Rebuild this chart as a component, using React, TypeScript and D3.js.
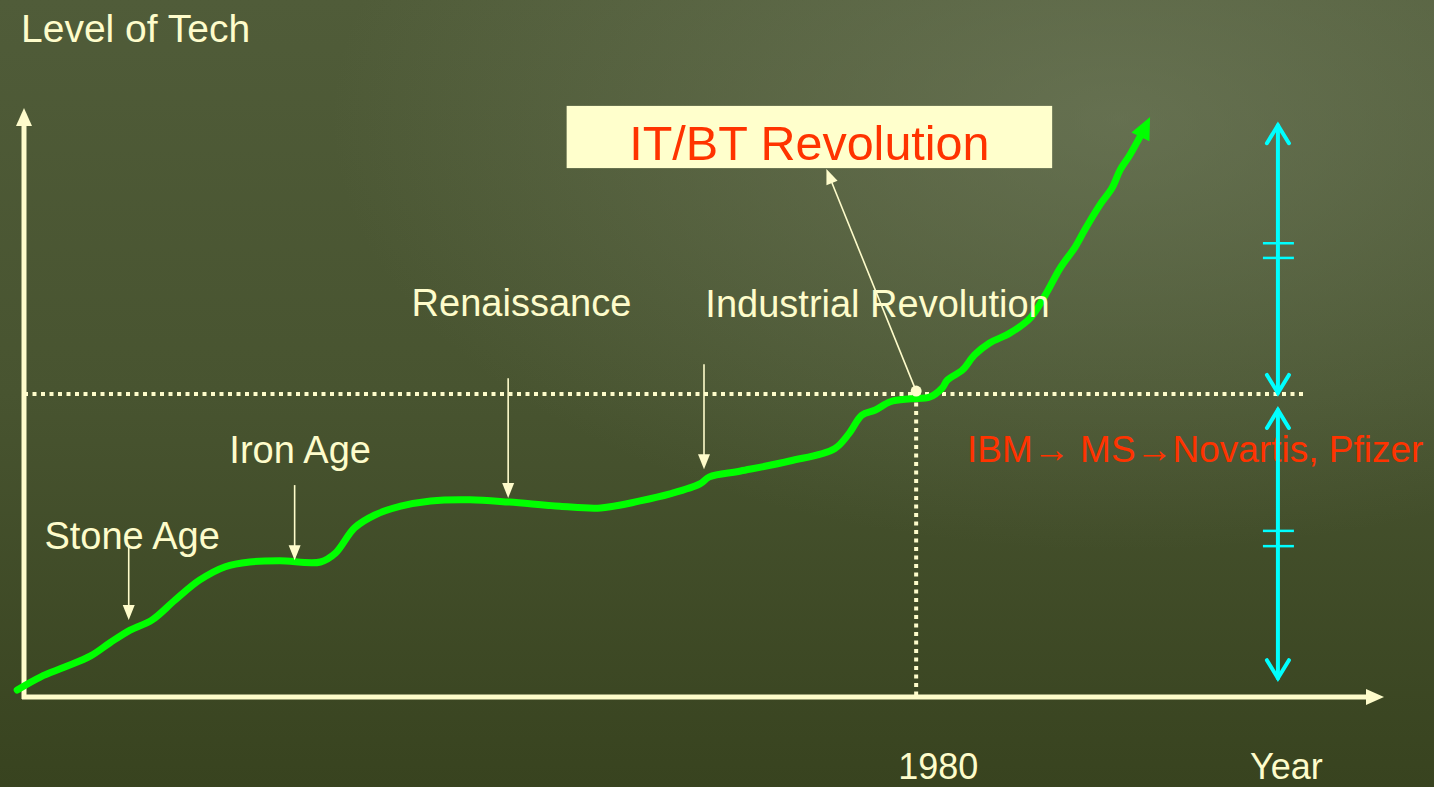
import * as d3 from "d3";
import { useEffect } from "react";

// level-of-tech curve, x = time progress (0..100), y = level (0..100)
const curveX = [-0.5, 1.2, 3.0, 4.9, 6.3, 7.8, 9.4, 11.1, 12.9, 14.8, 16.6, 18.8, 21.8, 22.9, 24.3, 25.8, 27.7, 29.9, 32.8, 35.7, 39.4, 42.4, 45.3, 47.5, 49.7, 50.4, 52.7, 56.3, 59.6, 60.7, 61.6, 62.6, 63.7, 65.2, 66.6, 67.5, 67.9, 69.0, 69.9, 71.0, 72.5, 74.0, 75.1, 76.2, 77.3, 78.0, 79.1, 80.0, 80.6, 81.3, 82.4];
const curveY = [1.2, 3.4, 5.1, 7.0, 9.2, 11.4, 13.1, 16.5, 19.9, 22.2, 23.0, 23.2, 23.0, 24.5, 28.8, 31.0, 32.5, 33.4, 33.6, 33.2, 32.5, 32.2, 33.4, 34.6, 36.3, 37.5, 38.5, 40.2, 42.3, 45.0, 48.0, 48.9, 50.3, 50.8, 51.1, 52.6, 54.0, 55.7, 58.3, 60.3, 62.0, 64.6, 68.5, 73.1, 76.7, 79.6, 83.8, 86.7, 89.8, 92.3, 96.9];
const curveTip = [82.8, 98.8];

const eraNames = ["Stone Age", "Iron Age", "Renaissance", "Industrial Revolution"];
const eraX = [7.7, 19.9, 35.6, 50.0];
const eraTop = [25.6, 36.1, 54.3, 56.7];
const eraTip = [13.1, 23.3, 33.9, 38.8];
const eraLabelX = [1.5, 15.1, 28.5, 50.1];
const eraLabelY = [25.2, 39.9, 64.9, 64.7];

const year1980 = 65.6;
const level1980 = 51.6;
const companies = "IBM→ MS→Novartis, Pfizer";
const revolution = "IT/BT Revolution";

const spanX = 92.2;
const spans = [
  [97.4, 51.8, 77.3, 74.8],
  [48.9, 3.2, 28.3, 25.7],
];

const W = 1434;
const H = 787;
const cream = "#fefccb";
const red = "#ff3300";

const x = d3.scaleLinear().domain([0, 100]).range([24, 1384]);
const y = d3.scaleLinear().domain([0, 100]).range([697, 110]);

function head(x1: number, y1: number, x2: number, y2: number, len: number, hw: number) {
  const a = Math.atan2(y2 - y1, x2 - x1);
  const bx = x2 - len * Math.cos(a);
  const by = y2 - len * Math.sin(a);
  const px = -Math.sin(a) * hw;
  const py = Math.cos(a) * hw;
  return `M${x2},${y2}L${bx + px},${by + py}L${bx - px},${by - py}Z`;
}

function back(x1: number, y1: number, x2: number, y2: number, d: number): [number, number] {
  const a = Math.atan2(y2 - y1, x2 - x1);
  return [x2 - d * Math.cos(a), y2 - d * Math.sin(a)];
}

function chevron(xc: number, yc: number, dir: number) {
  return `M${xc - 11},${yc + dir * 18}L${xc},${yc}L${xc + 11},${yc + dir * 18}`;
}

export default function App() {
  useEffect(() => {
    document.body.style.margin = "0";
  }, []);

  const pts: [number, number][] = curveX.map((v, i) => [x(v), y(curveY[i])]);
  const last = pts[pts.length - 1];
  const tip: [number, number] = [x(curveTip[0]), y(curveTip[1])];
  const lineEnd = back(last[0], last[1], tip[0], tip[1], 14);
  const line = d3.line().curve(d3.curveCatmullRom.alpha(0.5))([...pts, lineEnd])!;

  const font = "'Liberation Sans', Arial, sans-serif";
  const x0 = x(0);
  const y0 = y(0);

  const dotX = x(year1980);
  const dotY = y(level1980) - 3;
  const boxL = x(39.9);
  const boxR = x(75.6);
  const boxT = y(100.7);
  const boxB = y(90.1);
  const annTip: [number, number] = [x(59.0), boxB + 1];
  const annEnd = back(dotX, dotY, annTip[0], annTip[1], 12);

  return (
    <svg width={W} height={H} style={{ display: "block" }} fontFamily={font}>
      <defs>
        <linearGradient id="bg" x1="0" y1="0" x2="0" y2="1">
          <stop offset="0" stopColor="#505c39" />
          <stop offset="0.5" stopColor="#485430" />
          <stop offset="1" stopColor="#38431f" />
        </linearGradient>
        <radialGradient id="glow" cx="0.78" cy="0.15" r="0.55">
          <stop offset="0" stopColor="#7d876a" stopOpacity="0.5" />
          <stop offset="1" stopColor="#7d876a" stopOpacity="0" />
        </radialGradient>
      </defs>
      <rect width={W} height={H} fill="url(#bg)" />
      <rect width={W} height={H} fill="url(#glow)" />

      {/* axes */}
      <g stroke={cream} strokeWidth={5} fill={cream}>
        <line x1={x0} y1={y0 + 2} x2={x0} y2={y(100) + 14} />
        <path d={head(x0, y0, x0, y(100) - 2, 18, 8)} stroke="none" />
        <line x1={x0 - 2} y1={y0} x2={x(100) - 16} y2={y0} />
        <path d={head(x0, y0, x(100), y0, 18, 8)} stroke="none" />
      </g>

      {/* dotted guides */}
      <g stroke={cream} strokeWidth={4} strokeDasharray="4 4.5">
        <line x1={x0} y1={y(level1980)} x2={x(94.2)} y2={y(level1980)} />
        <line x1={x(year1980)} y1={y(level1980)} x2={x(year1980)} y2={y0} />
      </g>

      {/* tech curve */}
      <path d={line} fill="none" stroke="#00ff00" strokeWidth={7} strokeLinecap="round" strokeLinejoin="round" />
      <path d={head(last[0], last[1], tip[0], tip[1], 22, 10)} fill="#00ff00" />

      {/* era pointers */}
      <g stroke={cream} strokeWidth={1.6} fill={cream}>
        {eraX.map((ex, i) => (
          <g key={eraNames[i]}>
            <line x1={x(ex)} y1={y(eraTop[i])} x2={x(ex)} y2={y(eraTip[i]) - 12} />
            <path d={head(x(ex), y(eraTop[i]), x(ex), y(eraTip[i]), 15, 6)} stroke="none" />
          </g>
        ))}
      </g>
      <g fill={cream} fontSize={38}>
        {eraNames.map((n, i) => (
          <text key={n} x={x(eraLabelX[i])} y={y(eraLabelY[i])}>{n}</text>
        ))}
        <text x={21} y={42} fontSize={39}>Level of Tech</text>
        <text x={x(year1980) - 18} y={779} fontSize={36}>1980</text>
        <text x={1250} y={779} fontSize={36}>Year</text>
      </g>

      {/* IT/BT annotation */}
      <rect x={boxL} y={boxT} width={boxR - boxL} height={boxB - boxT} fill="#ffffcc" />
      <text x={(boxL + boxR) / 2} y={boxB - 8} textAnchor="middle" fontSize={48.5} fill={red}>{revolution}</text>
      <line x1={dotX} y1={dotY} x2={annEnd[0]} y2={annEnd[1]} stroke={cream} strokeWidth={1.6} />
      <path d={head(dotX, dotY, annTip[0], annTip[1], 15, 6)} fill={cream} />
      <circle cx={dotX} cy={dotY} r={5.5} fill={cream} />

      <text x={967} y={462} fontSize={37} fill={red}>{companies}</text>

      {/* cyan spans */}
      <g stroke="#00ffff" strokeWidth={4} fill="none" strokeLinecap="round">
        {spans.map(([top, bot, t1, t2], i) => (
          <g key={i}>
            <line x1={x(spanX)} y1={y(top)} x2={x(spanX)} y2={y(bot)} />
            <path d={chevron(x(spanX), y(top), 1)} />
            <path d={chevron(x(spanX), y(bot), -1)} />
            <line x1={x(spanX) - 15} x2={x(spanX) + 16} y1={y(t1)} y2={y(t1)} strokeWidth={2.5} strokeLinecap="butt" />
            <line x1={x(spanX) - 15} x2={x(spanX) + 16} y1={y(t2)} y2={y(t2)} strokeWidth={2.5} strokeLinecap="butt" />
          </g>
        ))}
      </g>
    </svg>
  );
}
